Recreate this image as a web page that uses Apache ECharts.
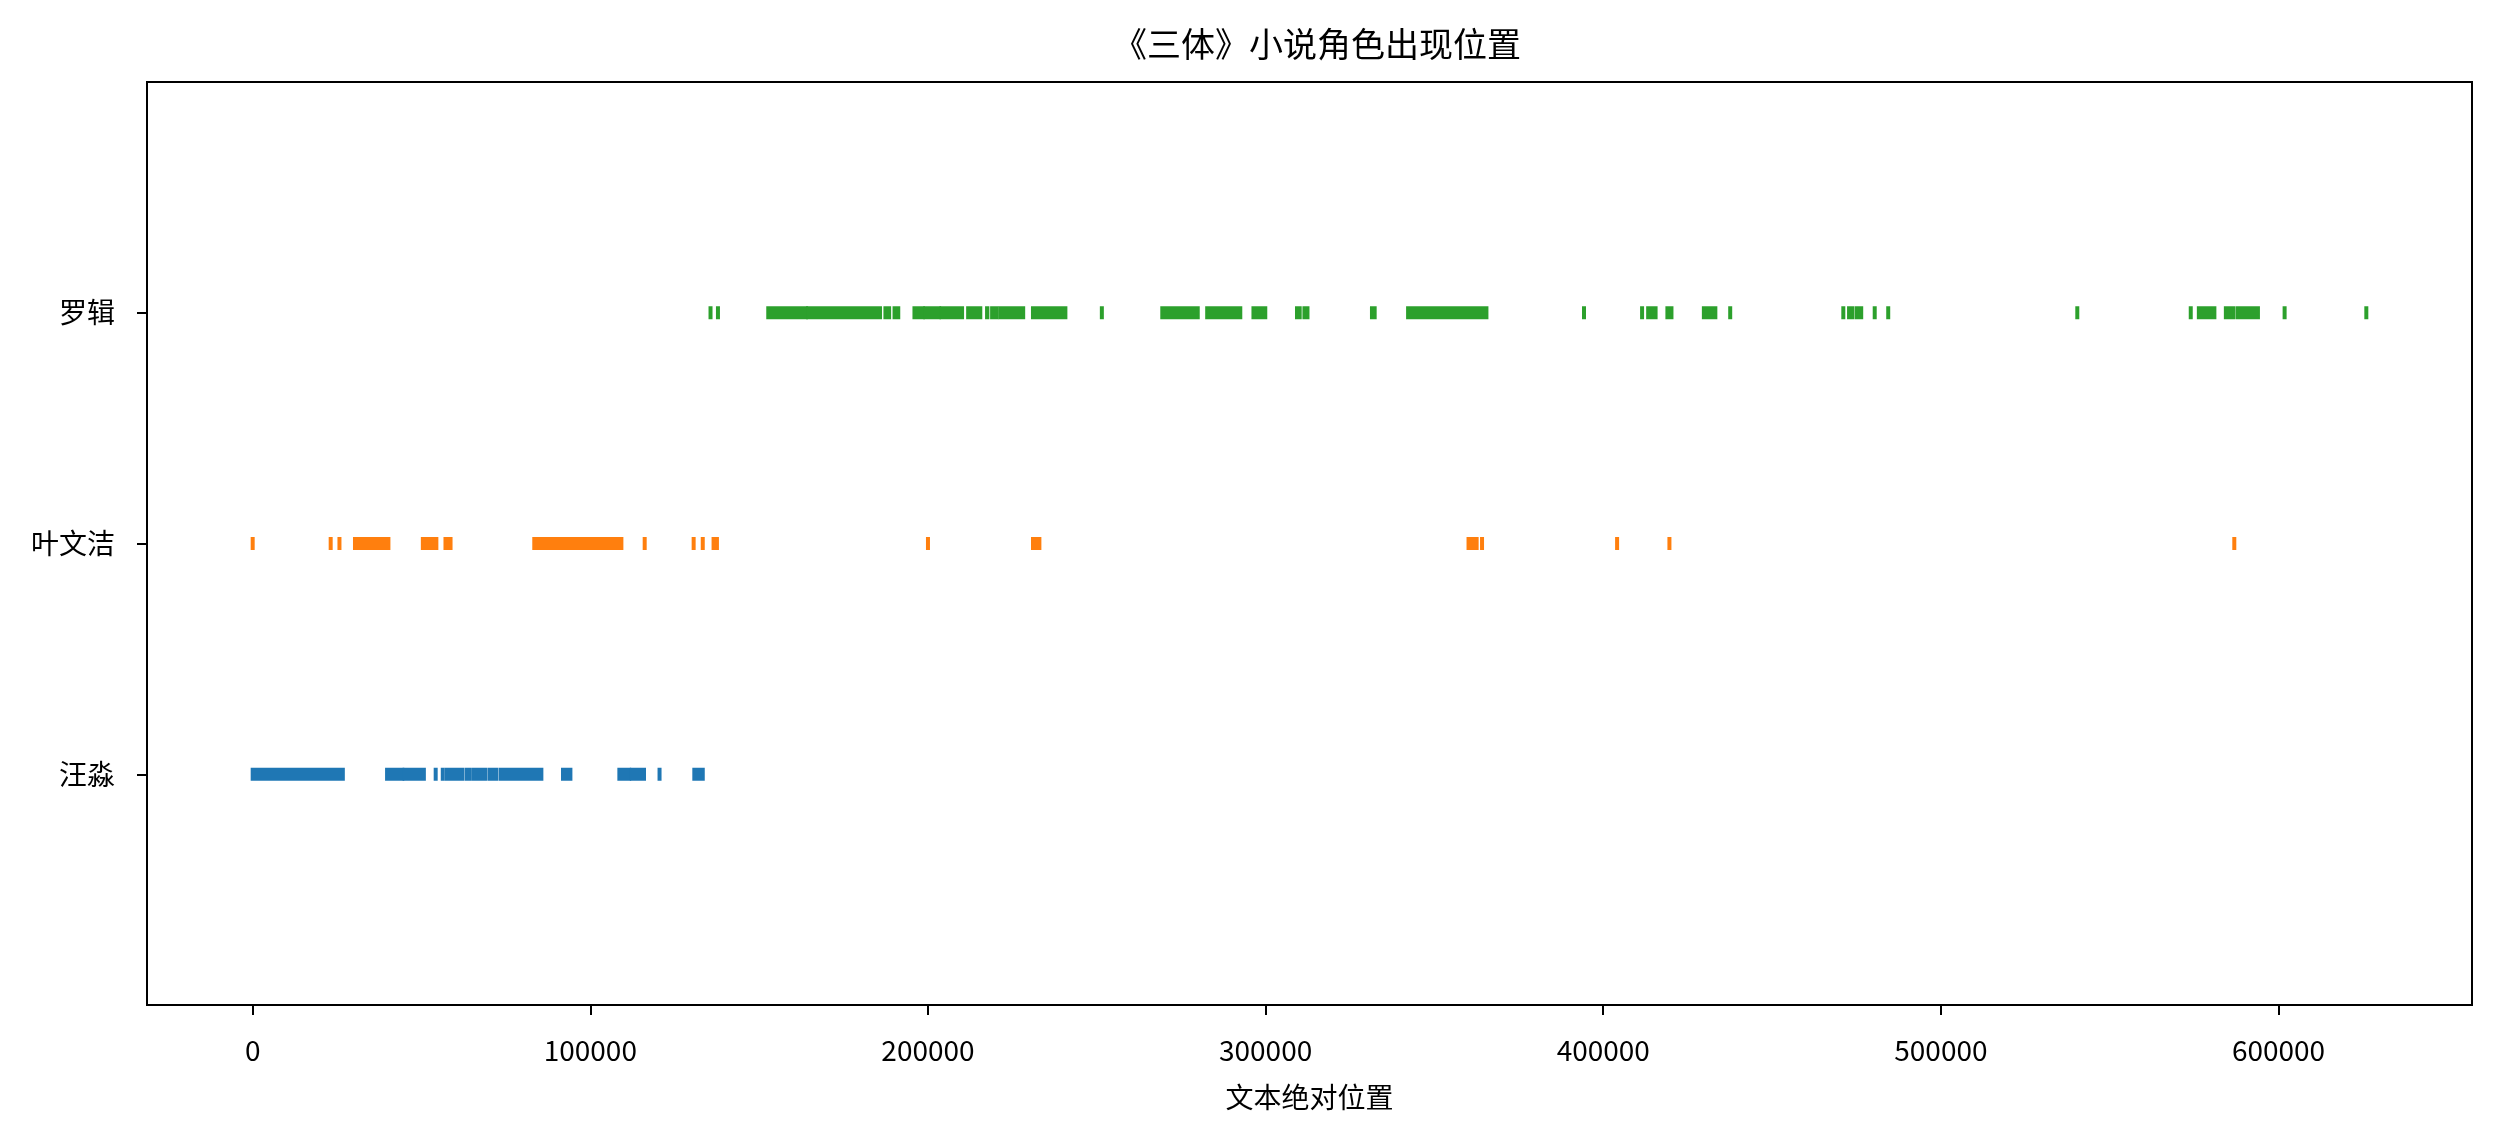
<!DOCTYPE html>
<html>
<head>
<meta charset="utf-8">
<title>《三体》小说角色出现位置</title>
<script src="https://cdn.jsdelivr.net/npm/echarts@6/dist/echarts.min.js"></script>
<style>
  html, body { margin: 0; padding: 0; background: #fff; }
  #chart { width: 2501px; height: 1144px; }
</style>
</head>
<body>
<div id="chart"></div>
<script>
// 角色（从下到上）
const characters = ['汪淼', '叶文洁', '罗辑']
const colors = ['#1f77b4', '#ff7f0e', '#2ca02c']

// 每个角色出现的位置段 [起, 止]，单次出现时起=止
const wangMiao = [
  [0, 26700], [39800, 44300], [45000, 50700], [54200, 54200], [56300, 56300],
  [57500, 62000], [63300, 64100], [65300, 68800], [70100, 72200], [73500, 85500],
  [91900, 94100], [108600, 111500], [112300, 115900], [120500, 120500], [130800, 133300]
]
const yeWenjie = [
  [0, 0], [23100, 23100], [25700, 25700], [30300, 40200], [50400, 54400],
  [57100, 58600], [83400, 109200], [116100, 116100], [130600, 130600], [133300, 133300],
  [136500, 137500], [200000, 200000], [231100, 233000], [360100, 362500], [364100, 364100],
  [404100, 404100], [419600, 419600], [586900, 586900]
]
const luoJi = [
  [135600, 135600], [137800, 137800], [152700, 163900], [164500, 185800], [187400, 188500],
  [190100, 191200], [196000, 198500], [199200, 203300], [204000, 210100], [211900, 215500],
  [217500, 217600], [219000, 220300], [221400, 228200], [231100, 240700], [251500, 251500],
  [269400, 279900], [282700, 292500], [296400, 299900], [309300, 310100], [311500, 312400],
  [331500, 332300], [342200, 365400], [394300, 394300], [411500, 411500], [413300, 415500],
  [419000, 420200], [429800, 433200], [437600, 437600], [471100, 471100], [472800, 473800],
  [475100, 476400], [480400, 480400], [484400, 484400], [540400, 540400], [574000, 574000],
  [576400, 581000], [584400, 586700], [588000, 593900], [601800, 601800], [626000, 626000]
]
const xTicks = [0, 100000, 200000, 300000, 400000, 500000, 600000]

const allEvents = [wangMiao, yeWenjie, luoJi]
const fontName = 'Noto Sans CJK SC'

// 每条事件线：宽4px，高13px
function renderEvent(params, api) {
  const row = api.value(2)
  const p0 = api.coord([api.value(0), row])
  const p1 = api.coord([api.value(1), row])
  const h = 13
  return {
    type: 'rect',
    shape: { x: p0[0] - 2, y: p0[1] - h / 2, width: p1[0] - p0[0] + 4, height: h },
    style: { fill: colors[row] }
  }
}

const series = allEvents.map((list, row) => ({
  type: 'custom',
  name: characters[row],
  renderItem: renderEvent,
  encode: { x: [0, 1], y: 2 },
  data: list.map(s => [s[0], s[1], row]),
  silent: true
}))

const chart = echarts.init(document.getElementById('chart'))
chart.setOption({
  animation: false,
  backgroundColor: '#fff',
  textStyle: { fontFamily: fontName },
  // 标题居中于绘图区上方
  title: {
    text: '《三体》小说角色出现位置',
    left: 1108,
    top: 22,
    textStyle: { fontSize: 34, fontWeight: 'normal', color: '#000', fontFamily: fontName }
  },
  grid: {
    left: 147, right: 29, top: 82, bottom: 139,
    show: true, borderColor: '#000', borderWidth: 2, backgroundColor: '#fff'
  },
  xAxis: {
    type: 'value',
    min: -31300,
    max: 657300,
    name: '文本绝对位置',
    nameLocation: 'middle',
    nameGap: 78,
    nameTextStyle: { fontSize: 28, color: '#000', fontFamily: fontName },
    axisLine: { show: false, onZero: false },
    axisTick: { show: true, length: 10, lineStyle: { color: '#000', width: 2 }, customValues: xTicks },
    axisLabel: {
      fontSize: 28, color: '#000', margin: 31, fontFamily: fontName,
      customValues: xTicks,
      formatter: v => String(v)
    },
    splitLine: { show: false }
  },
  yAxis: {
    type: 'value',
    min: -1,
    max: 3,
    axisLine: { show: false, onZero: false },
    axisTick: { show: true, length: 10, lineStyle: { color: '#000', width: 2 }, customValues: [0, 1, 2] },
    axisLabel: {
      fontSize: 28, color: '#000', margin: 32, fontFamily: fontName,
      customValues: [0, 1, 2],
      formatter: v => characters[v] || ''
    },
    splitLine: { show: false }
  },
  series: series
})
</script>
</body>
</html>
